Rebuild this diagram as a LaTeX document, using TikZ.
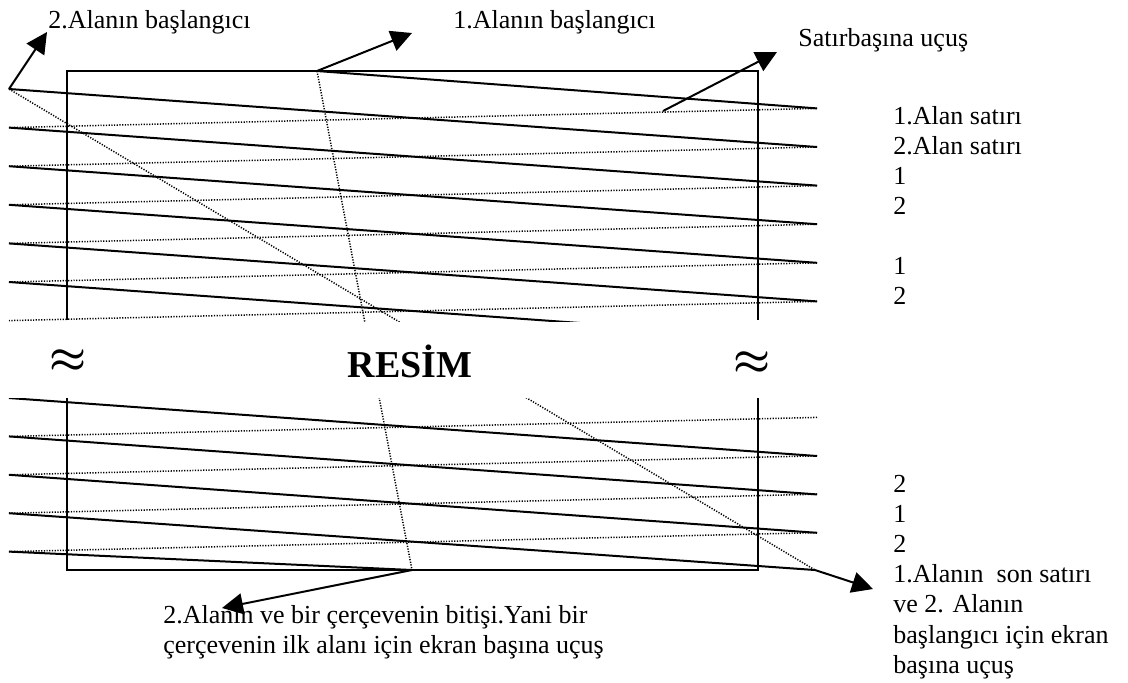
\documentclass[tikz,border=0pt]{standalone}
\usepackage{fontspec}
\setmainfont{Liberation Serif}
\usetikzlibrary{arrows.meta}

\tikzset{
  scan/.style={line width=1pt},
  retrace/.style={line width=0.75pt, dash pattern=on 0.6pt off 0.75pt},
  frameline/.style={line width=1pt},
  pointer/.style={line width=1pt, -{Triangle[length=10.5pt,width=10.5pt]}},
  lbl/.style={anchor=base west, inner sep=0pt, font=\fontsize{13}{15}\selectfont},
  gap/.style={font=\fontsize{20}{24}\selectfont\boldmath},
}

\begin{document}
\begin{tikzpicture}[x=0.5pt, y=-0.5pt]
	\useasboundingbox (0,0) rectangle (1128,682);

	% start and end points of the two fields
	\coordinate (f1start) at (317,71);
	\coordinate (f2start) at (9,89);
	\coordinate (f1end) at (815,570);
	\coordinate (f2end) at (412,570);
	\coordinate (fly) at (663,111);

	% upper part of the frame
	\begin{scope}
		\clip (0,0) rectangle (1128,321);
		\draw[scan] (f1start) -- (817,108.4);
		\foreach \k in {0,...,5} {
			\pgfmathsetmacro{\y}{89+38.6*\k}
			\draw[scan] (9,\y) -- (817,\y+58);
			\draw[retrace] (817,\y+19.4) -- (9,\y+38.6);
		}
		\draw[retrace] (f1start) -- (f2end);
		\draw[retrace] (f2start) -- (f1end);
	\end{scope}

	% lower part of the frame
	\begin{scope}
		\clip (0,398) rectangle (1128,682);
		\foreach \y in {398,436.4,474.8}
			\draw[scan] (9,\y) -- (817,\y+58);
		\draw[scan] (9,513.2) -- (f1end);
		\draw[scan] (9,551.6) -- (f2end);
		\foreach \y in {436.4,474.8,513.2,551.6}
			\draw[retrace] (817,\y-19) -- (9,\y);
		\draw[retrace] (f1start) -- (f2end);
		\draw[retrace] (f2start) -- (f1end);
	\end{scope}

	\draw[frameline] (67,320) -- (67,71) -- (758,71) -- (758,320);
	\draw[frameline] (67,398) -- (67,570) -- (758,570) -- (758,398);

	\node[gap] (gapl) at (68,361) {$\approx$};
	\node[gap] (gapr) at (752,363) {$\approx$};
	\node[anchor=base, inner sep=0pt, font=\bfseries\fontsize{19}{22}\selectfont] (resim) at (410,377) {RESİM};

	% labels
	\node[lbl] (lblf2) at (48,28) {2.Alanın başlangıcı};
	\node[lbl] (lblf1) at (453,28) {1.Alanın başlangıcı};
	\node[lbl] (lblfly) at (798,46) {Satırbaşına uçuş};
	\foreach \t/\y [count=\i] in {1.Alan satırı/124, 2.Alan satırı/154, 1/184, 2/214, 1/274, 2/304}
		\node[lbl] (rowtop\i) at (893,\y) {\t};
	\foreach \t [count=\i] in {2, 1, 2, 1.Alanın\ \ son satırı, ve 2. Alanın, başlangıcı için ekran, başına uçuş}
		\node[lbl] (rowbot\i) at (893,{492+30.2*(\i-1)}) {\t};
	\node[lbl] (lblend2a) at (163,623) {2.Alanın ve bir çerçevenin bitişi.Yani bir};
	\node[lbl] (lblend2b) at (163,653) {çerçevenin ilk alanı için ekran başına uçuş};

	% pointers
	\coordinate (tipf2) at (47,32);
	\coordinate (tipf1) at (412,33);
	\coordinate (tipfly) at (777,52);
	\coordinate (tipend2) at (222,608);
	\coordinate (tipend1) at (873,589);
	\draw[pointer] (f2start) -- (tipf2);
	\draw[pointer] (f1start) -- (tipf1);
	\draw[pointer] (fly) -- (tipfly);
	\draw[pointer] (f2end) -- (tipend2);
	\draw[pointer] (f1end) -- (tipend1);
\end{tikzpicture}
\end{document}
